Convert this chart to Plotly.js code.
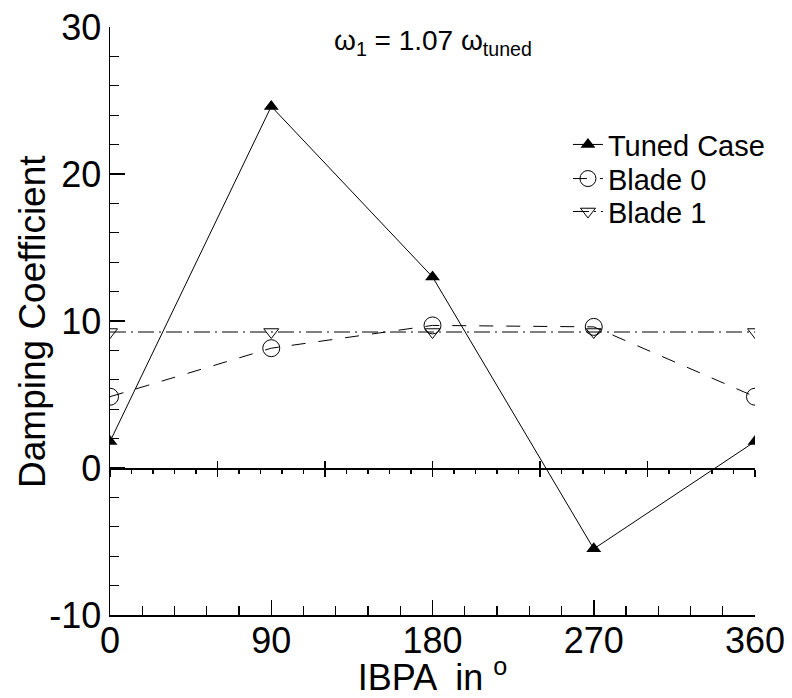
<!DOCTYPE html>
<html>
<head>
<meta charset="utf-8">
<script src="https://cdn.plot.ly/plotly-3.0.1.min.js"></script>
<style>html,body{margin:0;padding:0;background:#fff;}#chart{width:792px;height:698px;}</style>
</head>
<body>
<div id="chart"></div>
<script>
// Data
const ibpa = [0, 90, 180, 270, 360];
const tunedCase = [1.8, 24.6, 13.0, -5.5, 1.8];
const blade0 = [4.85, 8.15, 9.7, 9.6, 4.85];
const blade1 = [9.25, 9.25, 9.25, 9.25, 9.25];
const seriesNames = ["Tuned Case", "Blade 0", "Blade 1"];
const xTickVals = [0, 90, 180, 270, 360];
const yTickVals = [-10, 0, 10, 20, 30];
const yTitle = "Damping Coefficient";
const xTitle = "IBPA  in <sup>o</sup>";

const FONT = "Liberation Sans, Arial, Helvetica, sans-serif";

const traces = [
  {x: ibpa, y: tunedCase, name: seriesNames[0], legend: "legend", mode: "lines+markers",
   line: {color: "#000", width: 1, dash: "solid"},
   marker: {symbol: "triangle-up", size: 13, color: "#000", line: {width: 0}}},
  {x: ibpa, y: blade0, name: seriesNames[1], legend: "legend2", mode: "lines+markers",
   line: {color: "#000", width: 1, dash: "14px,13px"},
   marker: {symbol: "circle-open", size: 17, color: "#000", line: {width: 1, color: "#000"}}},
  {x: ibpa, y: blade1, name: seriesNames[2], legend: "legend3", mode: "lines+markers",
   line: {color: "#000", width: 1, dash: "16px,5px,2px,5px"},
   marker: {symbol: "triangle-down-open", size: 13, color: "#000", line: {width: 1, color: "#000"}}},
  // invisible helpers so the zero-line axes get drawn
  {x: ibpa, y: tunedCase, xaxis: "x2", mode: "lines", line: {width: 0}, opacity: 0, showlegend: false, hoverinfo: "skip"},
  {x: ibpa, y: tunedCase, xaxis: "x3", mode: "lines", line: {width: 0}, opacity: 0, showlegend: false, hoverinfo: "skip"}
];

const zeroAxisCommon = {
  overlaying: "x", anchor: "free", position: 0.25, side: "bottom",
  range: [0, 360], showline: true, linecolor: "#000", linewidth: 1.5,
  showgrid: false, zeroline: false, showticklabels: false,
  tickmode: "linear", tick0: 0, dtick: 60, ticklen: 7, tickwidth: 1.5, tickcolor: "#000",
  minor: {tickmode: "linear", tick0: 0, dtick: 12, ticklen: 4, tickwidth: 1.2, tickcolor: "#000", showgrid: false}
};

const legendCommon = {xanchor: "left", yanchor: "middle", x: 0.710,
  font: {family: FONT, size: 29, color: "#000"}, bgcolor: "rgba(0,0,0,0)", itemwidth: 30};

const layout = {
  width: 792, height: 698,
  margin: {l: 110, r: 37, t: 27, b: 83},
  paper_bgcolor: "#fff", plot_bgcolor: "#fff",
  font: {family: FONT, color: "#000"},
  showlegend: true,
  legend: Object.assign({}, legendCommon, {y: 0.800}),
  legend2: Object.assign({}, legendCommon, {y: 0.742}),
  legend3: Object.assign({}, legendCommon, {y: 0.686}),
  xaxis: {
    range: [0, 360], showline: true, linecolor: "#000", linewidth: 1.5,
    showgrid: false, zeroline: false,
    tickmode: "array", tickvals: xTickVals, ticktext: xTickVals.map(String),
    ticks: "inside", ticklen: 15, tickwidth: 1.5, tickcolor: "#000",
    minor: {tickmode: "linear", tick0: 0, dtick: 18, ticks: "inside", ticklen: 9, tickwidth: 1.2, tickcolor: "#000", showgrid: false},
    tickfont: {family: FONT, size: 36, color: "#000"},
    ticklabelstandoff: -7,
    title: {text: xTitle, font: {family: FONT, size: 36, color: "#000"}, standoff: 0}
  },
  xaxis2: Object.assign({}, zeroAxisCommon, {ticks: "outside"}),
  xaxis3: Object.assign({}, zeroAxisCommon, {ticks: "inside"}),
  yaxis: {
    range: [-10, 30], showline: true, linecolor: "#000", linewidth: 1.5,
    showgrid: false, zeroline: false,
    tickmode: "array", tickvals: yTickVals, ticktext: yTickVals.map(String),
    ticks: "inside", ticklen: 15, tickwidth: 1.5, tickcolor: "#000",
    minor: {tickmode: "linear", tick0: 0, dtick: 2, ticks: "inside", ticklen: 9, tickwidth: 1.2, tickcolor: "#000", showgrid: false},
    tickfont: {family: FONT, size: 36, color: "#000"}
  },
  annotations: [
    {xref: "paper", yref: "paper", x: 0.5, y: 0.973, xanchor: "center", yanchor: "middle",
     text: "ω<sub>1</sub> = 1.07 ω<sub>tuned</sub>", showarrow: false,
     font: {family: FONT, size: 28, color: "#000"}},
    {xref: "paper", yref: "paper", x: -0.121, y: 0.50, xanchor: "center", yanchor: "middle",
     text: yTitle, textangle: -90, showarrow: false,
     font: {family: FONT, size: 37, color: "#000"}}
  ]
};

Plotly.newPlot("chart", traces, layout, {staticPlot: true, displayModeBar: false});
</script>
</body>
</html>
